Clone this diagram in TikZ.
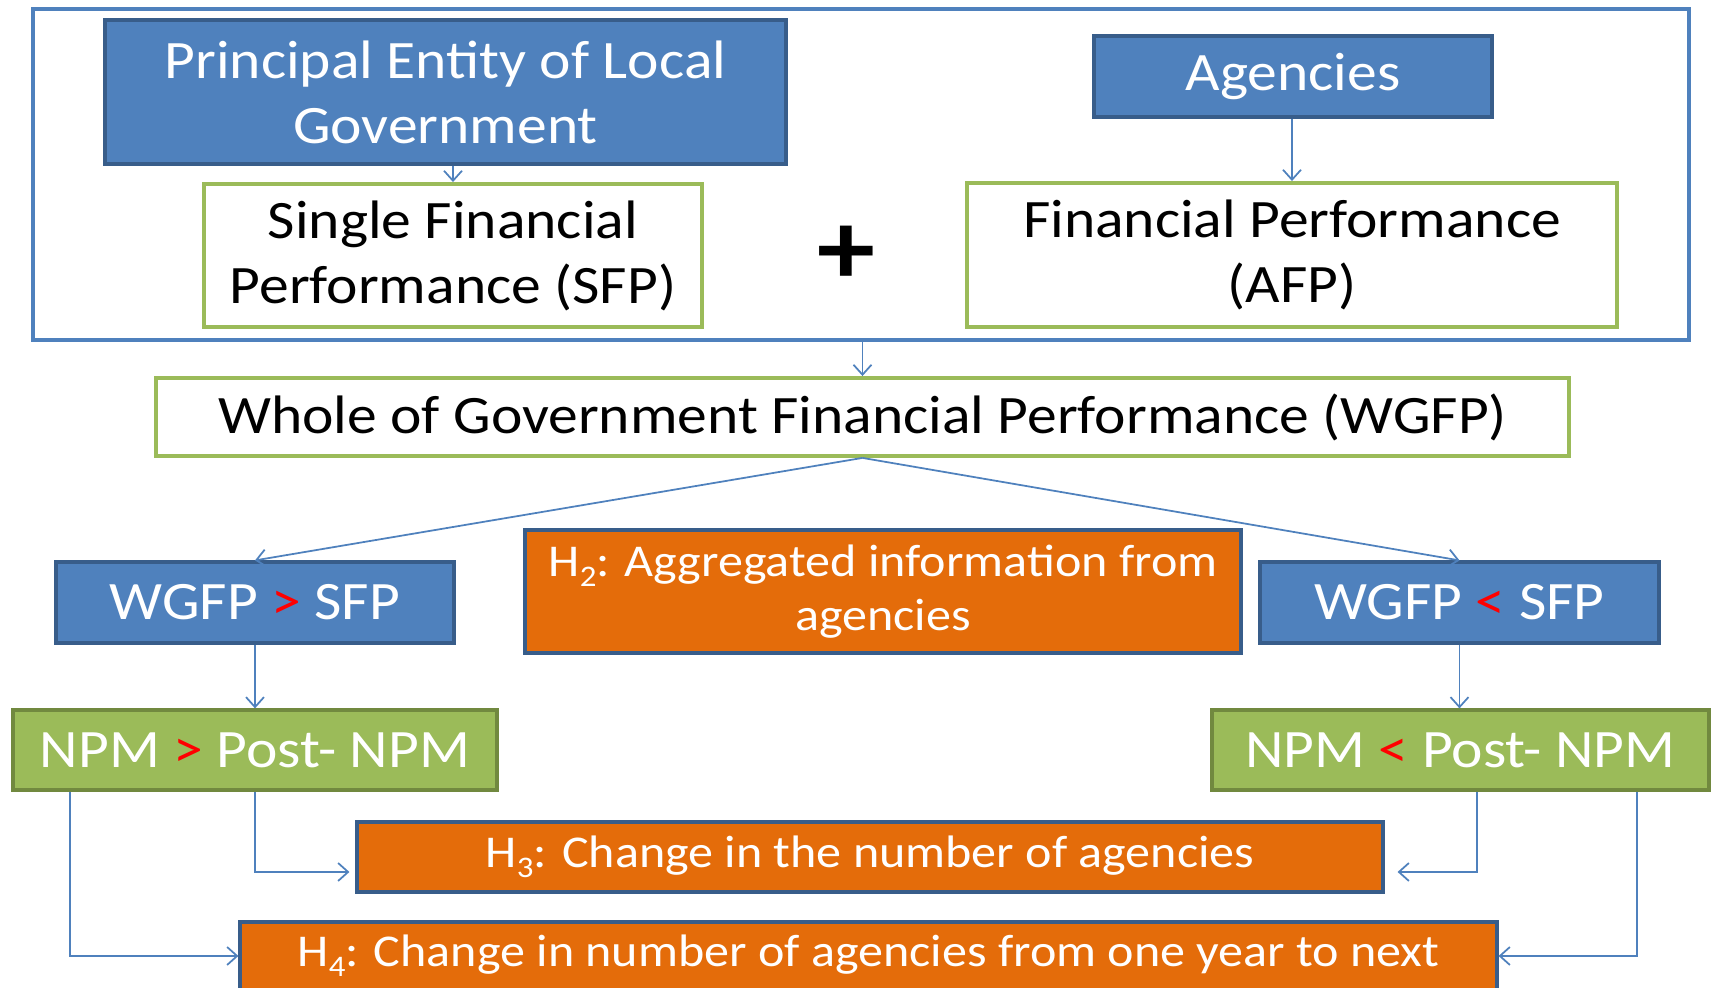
\documentclass[tikz,border=0pt]{standalone}
\usepackage{fontspec}
\setmainfont{Carlito}[FakeStretch=1.1]
\usepackage{xcolor}
\definecolor{acc}{HTML}{4F81BD}
\definecolor{accd}{HTML}{385D8A}
\definecolor{grn}{HTML}{9BBB59}
\definecolor{grnd}{HTML}{71893F}
\definecolor{org}{HTML}{E46C0A}
\definecolor{hot}{HTML}{FF0000}
\usepackage{tikz}
\usetikzlibrary{arrows.meta,positioning,calc}
\newcommand{\bigtxt}{\fontsize{15.4}{18.5}\selectfont}
\newcommand{\htxt}{\fontsize{12.95}{15.5}\selectfont}
\newcommand{\gtr}{\textcolor{hot}{>}}
\newcommand{\lss}{\textcolor{hot}{<}}
\newcommand{\hsub}[1]{\raisebox{-0.22em}{\fontsize{8.5}{8.5}\selectfont#1}}
\tikzset{
  >={Straight Barb[length=1mm,width=1.8mm]},
  bbox/.style={draw=accd,fill=acc,line width=0.9pt,inner sep=0pt,align=center,text=white,font=\bigtxt},
  wbox/.style={bbox,draw=grn,fill=white,line width=1.1pt,text=black},
  gbox/.style={bbox,draw=grnd,fill=grn},
  hbox/.style={bbox,fill=org,font=\htxt},
  frame/.style={draw=acc,line width=1.1pt,inner sep=0pt},
  arr/.style={->,draw=acc,line width=0.5pt},
}

\begin{document}
\begin{tikzpicture}[x=1mm,y=1mm]
\useasboundingbox (0,0) rectangle (171.1,98.8);
% top group
\node[frame,minimum width=165.6mm,minimum height=33.1mm] (grp) at (86.1,81.35) {};
\node[bbox,minimum width=68.1mm,minimum height=14.4mm] (princ) at (44.55,89.6) {Principal Entity of Local\\Government};
\node[bbox,minimum width=39.8mm,minimum height=8.1mm] (agen) at (129.3,91.15) {Agencies};
\node[wbox,minimum width=49.8mm,minimum height=14.3mm] (sfp) at (45.3,73.25) {Single Financial\\Performance (SFP)};
\node[wbox,minimum width=65mm,minimum height=14.4mm] (afp) at (129.2,73.3) {Financial Performance\\(AFP)};
\node[font=\fontsize{30}{30}\selectfont\bfseries] (plus) at (84.6,73.3) {+};
\draw[arr] (princ.south -| sfp.north) -- (sfp.north);
\draw[arr] (agen.south -| afp.north) -- (afp.north);
% whole of government
\node[wbox,minimum width=141.3mm,minimum height=7.8mm] (wgfp) at (86.25,57.1) {Whole of Government Financial Performance (WGFP)};
\draw[arr] (grp.south -| wgfp.north) -- (wgfp.north);
% comparisons
\node[bbox,minimum width=39.8mm,minimum height=8.1mm] (gt) at (25.5,38.55) {WGFP \gtr{} SFP};
\node[hbox,minimum width=71.6mm,minimum height=12.3mm] (h2) at (88.3,39.65) {H\hsub{2}: Aggregated information from\\agencies};
\node[bbox,minimum width=39.9mm,minimum height=8.1mm] (lt) at (145.95,38.55) {WGFP \lss{} SFP};
\draw[arr] (wgfp.south) -- (gt.north);
\draw[arr] (wgfp.south) -- (lt.north);
\node[gbox,minimum width=48.4mm,minimum height=8mm] (npmgt) at (25.5,23.8) {NPM \gtr{} Post- NPM};
\node[gbox,minimum width=49.7mm,minimum height=8mm] (npmlt) at (146.05,23.8) {NPM \lss{} Post- NPM};
\draw[arr] (gt.south) -- (npmgt.north);
\draw[arr] (lt.south) -- (lt.south |- npmlt.north);
% hypotheses
\node[hbox,minimum width=102.6mm,minimum height=7mm] (h3) at (87,13.1) {H\hsub{3}: Change in the number of agencies};
\node[hbox,minimum width=125.7mm,minimum height=6.8mm] (h4) at (86.85,3.2) {H\hsub{4}: Change in number of agencies from one year to next};
\draw[arr,shorten >=0.6mm] (npmgt.south) |- ([yshift=-1.5mm]h3.west);
\draw[arr] ([xshift=-18.5mm]npmgt.south) |- (h4.west);
\draw[arr,shorten >=1.3mm] ([xshift=1.65mm]npmlt.south) |- ([yshift=-1.5mm]h3.east);
\draw[arr] ([xshift=17.65mm]npmlt.south) |- (h4.east);
\end{tikzpicture}
\end{document}
